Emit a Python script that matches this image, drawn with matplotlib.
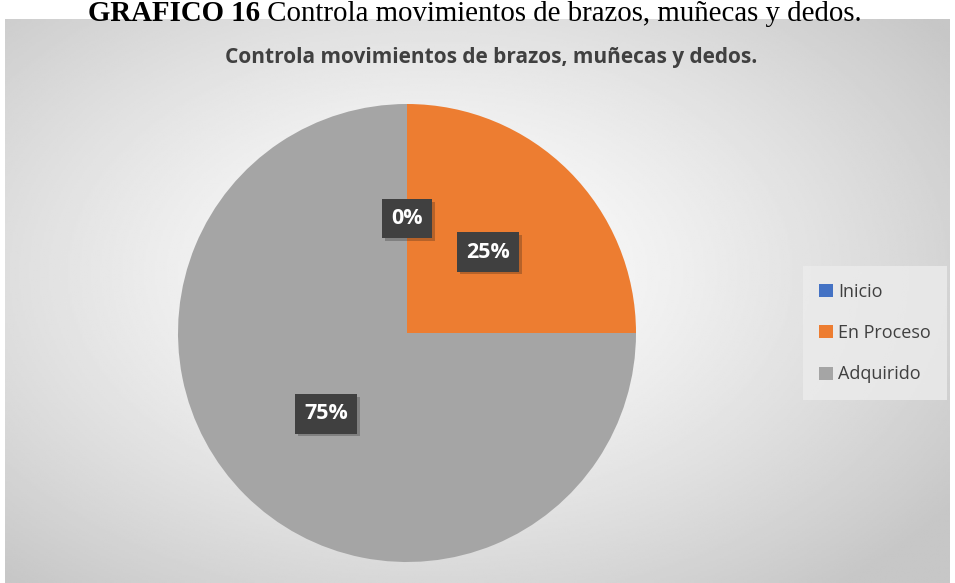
import numpy as np
import matplotlib.pyplot as plt
import matplotlib.patheffects as pe

categorias = ["Inicio", "En Proceso", "Adquirido"]
valores = [0, 25, 75]
colores = ["#4472C4", "#ED7D31", "#A5A5A5"]
titulo = "Controla movimientos de brazos, muñecas y dedos."

W, H = 955, 583
fig = plt.figure(figsize=(W / 100, H / 100), dpi=100)
fig.patch.set_facecolor("white")

# fondo del grafico con degradado radial
bg = fig.add_axes([5 / W, 0, 945 / W, (H - 19) / H])
yy, xx = np.mgrid[0:1:300j, 0:1:500j]
r = np.sqrt(((xx - 0.45) / 0.75) ** 2 + ((yy - 0.45) / 0.8) ** 2)
r = np.clip(r / 0.9, 0, 1)
grad = 1.0 - 0.22 * r ** 1.3
bg.imshow(grad, cmap="gray", vmin=0, vmax=1, aspect="auto", origin="upper",
          extent=[0, 1, 0, 1])
bg.set_axis_off()

# pastel
ax = fig.add_axes([(407 - 240) / W, (H - 333 - 240) / H, 480 / W, 480 / H])
wedges, _ = ax.pie(valores, colors=colores, startangle=90, counterclock=False,
                   radius=229 / 240)
ax.set_xlim(-1, 1)
ax.set_ylim(-1, 1)
ax.set_aspect("equal")

total = sum(valores)
theta = 90.0
for v in valores:
    ang = np.deg2rad(theta - v / total * 360 / 2)
    theta -= v / total * 360
    d = 0.5 * 229 / 240
    ax.text(d * np.cos(ang), d * np.sin(ang), f"{v / total:.0%}",
            ha="center", va="center", color="white", fontsize=15.5,
            fontweight="bold", family="Open Sans",
            bbox=dict(boxstyle="square,pad=0.42", fc="#404040", ec="none",
                      path_effects=[pe.withSimplePatchShadow(offset=(2, -2), alpha=0.25),
                                    pe.Normal()]))

fig.text(491 / W, (H - 58) / H, titulo, ha="center", va="center", fontsize=15,
         fontweight="bold", color="#404040", family="Open Sans")

# titulo del documento
t1 = fig.text(88 / W, (H - 21) / H, "GRAFICO 16", ha="left", va="baseline",
              fontsize=20.8, fontweight="bold", family="Liberation Serif", color="black")
fig.add_artist(plt.Annotation(" " + titulo, xy=(1, 0), xycoords=t1,
                              va="bottom", ha="left", fontsize=20.8,
                              family="Liberation Serif", color="black"))

leg = fig.legend(wedges, categorias, loc="center left",
                 bbox_to_anchor=(803 / W, (H - 333) / H), frameon=True,
                 labelspacing=1.3, handlelength=0.75, handleheight=0.75,
                 handletextpad=0.3, borderpad=0.9, borderaxespad=0, fancybox=False,
                 prop={"family": "Open Sans", "size": 13})
leg.get_frame().set_facecolor("#ececec")
leg.get_frame().set_edgecolor("none")
for t in leg.get_texts():
    t.set_color("#404040")

fig.savefig("out.png", dpi=100)
